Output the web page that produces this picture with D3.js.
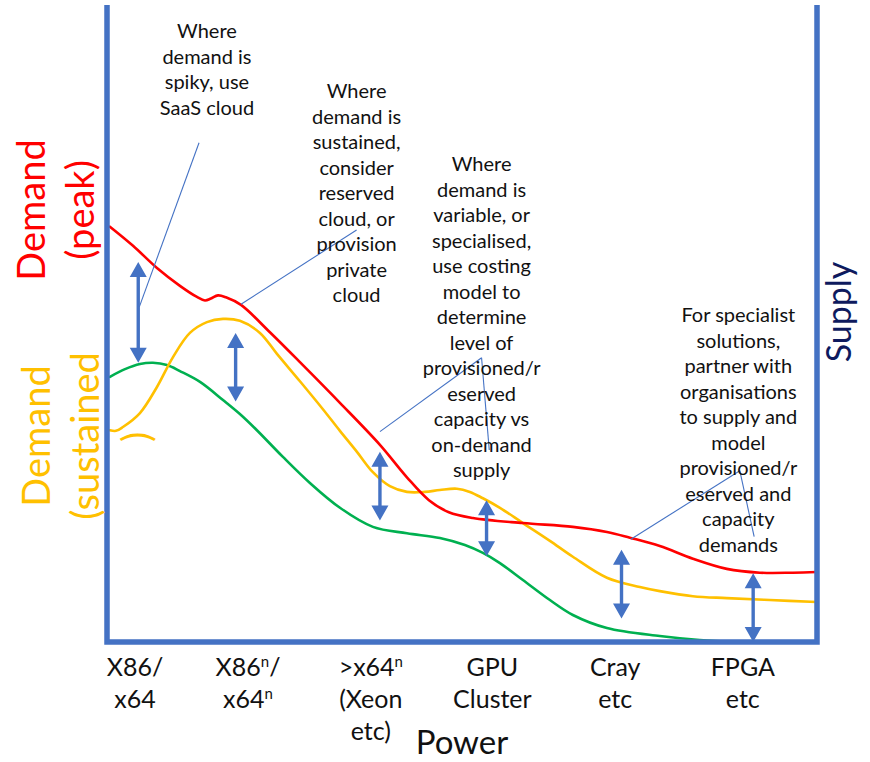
<!DOCTYPE html>
<html>
<head>
<meta charset="utf-8">
<script src="https://cdn.jsdelivr.net/npm/d3@7"></script>
<style>
  html, body { margin: 0; padding: 0; background: #ffffff; }
  svg { display: block; font-family: Lato, "Open Sans", sans-serif; }
</style>
</head>
<body>
<svg id="chart" width="870" height="762"></svg>
<script>
// Power tiers along the horizontal axis ("^n" marks a superscript n)
const categories = [
  ["X86/", "x64"],
  ["X86^n/", "x64^n"],
  [">x64^n", "(Xeon", "etc)"],
  ["GPU", "Cluster"],
  ["Cray", "etc"],
  ["FPGA", "etc"]
];
const categoryPower = [0, 0.93, 1.94, 2.94, 3.95, 5];

// Demand (peak): power position and demand level (0-100)
const peakPower  = [-0.206, -0.016, 0.181, 0.370, 0.510, 0.576, 0.625, 0.683, 0.748, 0.872, 1.110, 1.357, 1.686, 2.015, 2.237, 2.418, 2.582, 2.780, 3.191, 3.602, 3.882, 4.071, 4.317, 4.589, 4.868, 5.140, 5.411, 5.609];
const peakDemand = [65.3, 62.3, 58.8, 56.0, 54.25, 53.7, 54.0, 54.5, 54.2, 53.0, 48.7, 44.0, 37.6, 31.0, 25.9, 22.3, 20.4, 19.5, 18.7, 18.1, 17.3, 16.4, 15.1, 13.1, 11.5, 10.9, 10.9, 11.0];

// Demand (sustained)
const sustainedPower  = [-0.206, -0.156, -0.099, 0.041, 0.181, 0.313, 0.452, 0.592, 0.724, 0.863, 1.028, 1.168, 1.357, 1.546, 1.686, 1.826, 1.957, 2.097, 2.237, 2.385, 2.508, 2.648, 2.755, 2.862, 3.002, 3.191, 3.413, 3.602, 3.882, 4.153, 4.317, 4.589, 4.868, 5.222, 5.609];
const sustainedDemand = [33.3, 33.2, 33.8, 36.0, 40.1, 44.8, 48.6, 50.3, 50.8, 50.5, 48.6, 45.3, 41.0, 36.6, 33.2, 29.9, 26.7, 24.5, 23.6, 23.6, 23.9, 24.1, 23.6, 22.6, 21.1, 18.7, 15.9, 13.4, 10.1, 8.65, 8.0, 7.2, 6.9, 6.6, 6.3];

// Baseline demand
const basePower  = [-0.206, -0.082, 0.041, 0.148, 0.263, 0.370, 0.535, 0.724, 0.863, 1.003, 1.217, 1.439, 1.686, 1.957, 2.237, 2.508, 2.714, 2.862, 3.002, 3.191, 3.413, 3.602, 3.882, 4.317, 4.646, 4.959];
const baseDemand = [41.7, 42.9, 43.7, 43.9, 43.55, 42.6, 40.9, 38.05, 35.85, 33.3, 29.1, 25.0, 21.1, 18.1, 17.1, 16.35, 15.25, 14.0, 12.4, 9.75, 6.6, 4.25, 2.2, 0.94, 0.31, 0];

// Gaps between demand levels (double-headed arrows)
const gapPower = [0.027, 0.828, 2.015, 2.892, 4.002, 5.085];
const gapTop   = [59.75, 48.6, 29.9, 22.3, 14.5, 10.8];
const gapBase  = [43.9, 37.8, 19.1, 13.5, 3.7, 0];

// Guidance notes
const notes = [
  ["Where", "demand is", "spiky, use", "SaaS cloud"],
  ["Where", "demand is", "sustained,", "consider", "reserved", "cloud, or", "provision", "private", "cloud"],
  ["Where", "demand is", "variable, or", "specialised,", "use costing", "model to", "determine", "level of", "provisioned/r", "eserved", "capacity vs", "on-demand", "supply"],
  ["For specialist", "solutions,", "partner with", "organisations", "to supply and", "model", "provisioned/r", "eserved and", "capacity", "demands"]
];
// Note anchors (centre of first line) in chart units
const notePower = [0.592, 1.823, 2.851, 4.963];
const noteLevel = [94.92, 85.49, 73.98, 50.24];

// Leader lines from each note to the chart: [from, to] in chart units
const leaders = [
  [[0.527, 78.5], [0.036, 52.7]],
  [[1.823, 64.78], [0.872, 53.1]],
  [[2.851, 44.7], [2.015, 33.07]],
  [[2.851, 44.7], [2.914, 30.19]],
  [[4.975, 26.93], [4.079, 16.15]],
  [[4.975, 26.93], [5.093, 16.56]]
];

// ---- layout ----
const svg = d3.select("#chart");
const frameLeft = 107, frameRight = 817, frameTop = 6, frameBottom = 642;
const blue = "#4472C4";

const x = d3.scaleLinear().domain([-0.23, 5.61]).range([frameLeft, frameRight]);
const y = d3.scaleLinear().domain([0, 100]).range([frameBottom, frameTop]);

// Demand curves
const line = d3.line().x(d => x(d[0])).y(d => y(d[1])).curve(d3.curveCatmullRom.alpha(0.5));
const series = [
  { power: basePower, level: baseDemand, color: "#00B050" },
  { power: sustainedPower, level: sustainedDemand, color: "#FFC000" },
  { power: peakPower, level: peakDemand, color: "#FF0000" }
];
svg.append("g").selectAll("path").data(series).join("path")
  .attr("d", s => line(d3.zip(s.power, s.level)))
  .attr("fill", "none")
  .attr("stroke", s => s.color)
  .attr("stroke-width", 2.6)
  .attr("stroke-linecap", "round");

// Frame: left, bottom and right axis lines
svg.append("path")
  .attr("d", `M${x(-0.23)},${y(100) - 1}V${y(0)}H${x(5.61)}V${y(100) - 1}`)
  .attr("fill", "none")
  .attr("stroke", blue)
  .attr("stroke-width", 5.5)
  .attr("stroke-linejoin", "miter");

// Leader lines
svg.append("g").selectAll("line").data(leaders).join("line")
  .attr("x1", d => x(d[0][0])).attr("y1", d => y(d[0][1]))
  .attr("x2", d => x(d[1][0])).attr("y2", d => y(d[1][1]))
  .attr("stroke", blue)
  .attr("stroke-width", 1.1);

// Double-headed arrows
const headLen = 15, headHalf = 8.5;
const arrows = svg.append("g").selectAll("g").data(d3.range(gapPower.length)).join("g");
arrows.append("line")
  .attr("x1", i => x(gapPower[i])).attr("x2", i => x(gapPower[i]))
  .attr("y1", i => y(gapTop[i]) + headLen - 1)
  .attr("y2", i => y(gapBase[i]) - headLen + 1)
  .attr("stroke", blue).attr("stroke-width", 3.4);
arrows.append("path")
  .attr("d", i => {
    const cx = x(gapPower[i]), t = y(gapTop[i]), b = y(gapBase[i]);
    return `M${cx},${t}L${cx + headHalf},${t + headLen}L${cx - headHalf},${t + headLen}Z` +
           `M${cx},${b}L${cx + headHalf},${b - headLen}L${cx - headHalf},${b - headLen}Z`;
  })
  .attr("fill", blue);

// Notes
const noteLineH = 25.5;
notes.forEach((lines, k) => {
  const t = svg.append("text")
    .attr("text-anchor", "middle")
    .attr("fill", "#111")
    .style("font-size", "20px");
  lines.forEach((s, j) => {
    t.append("tspan")
      .attr("x", x(notePower[k]))
      .attr("y", y(noteLevel[k]) + j * noteLineH)
      .text(s);
  });
});

// Category labels; a superscript n is raised and the following text dropped back
function writeLabel(sel, str, supSize, supRise) {
  const parts = str.split("^n");
  let pendingDrop = 0;
  parts.forEach((p, i) => {
    if (p) {
      const ts = sel.append("tspan").text(p);
      if (pendingDrop) ts.attr("dy", pendingDrop);
      pendingDrop = 0;
    }
    if (i < parts.length - 1) {
      sel.append("tspan").attr("dy", -supRise).style("font-size", supSize + "px").text("n");
      pendingDrop = supRise;
    }
  });
}
const catLineH = 32;
categories.forEach((lines, k) => {
  lines.forEach((s, j) => {
    const t = svg.append("text")
      .attr("x", x(categoryPower[k]))
      .attr("y", frameBottom + 34 + j * catLineH)
      .attr("text-anchor", "middle")
      .attr("fill", "#111")
      .style("font-size", "25px");
    writeLabel(t, s, 15, 9);
  });
});

// Axis titles
svg.append("text")
  .attr("x", 462).attr("y", 754)
  .attr("text-anchor", "middle")
  .attr("fill", "#111")
  .style("font-size", "33px")
  .text("Power");

function vertical(label, bx, cy, size, color) {
  svg.append("text")
    .attr("transform", `translate(${bx},${cy}) rotate(-90)`)
    .attr("text-anchor", "middle")
    .attr("fill", color)
    .style("font-size", size + "px")
    .text(label);
}
vertical("Demand", 45, 210, 38, "#FF0000");
vertical("(peak)", 94, 210, 38, "#FF0000");
vertical("Demand", 50, 436, 38, "#FFC000");
vertical("(sustained", 99, 436, 38, "#FFC000");
vertical(")", 150, 437, 38, "#FFC000");
vertical("Supply", 851, 312, 34, "#0E1A5E");
</script>
</body>
</html>
